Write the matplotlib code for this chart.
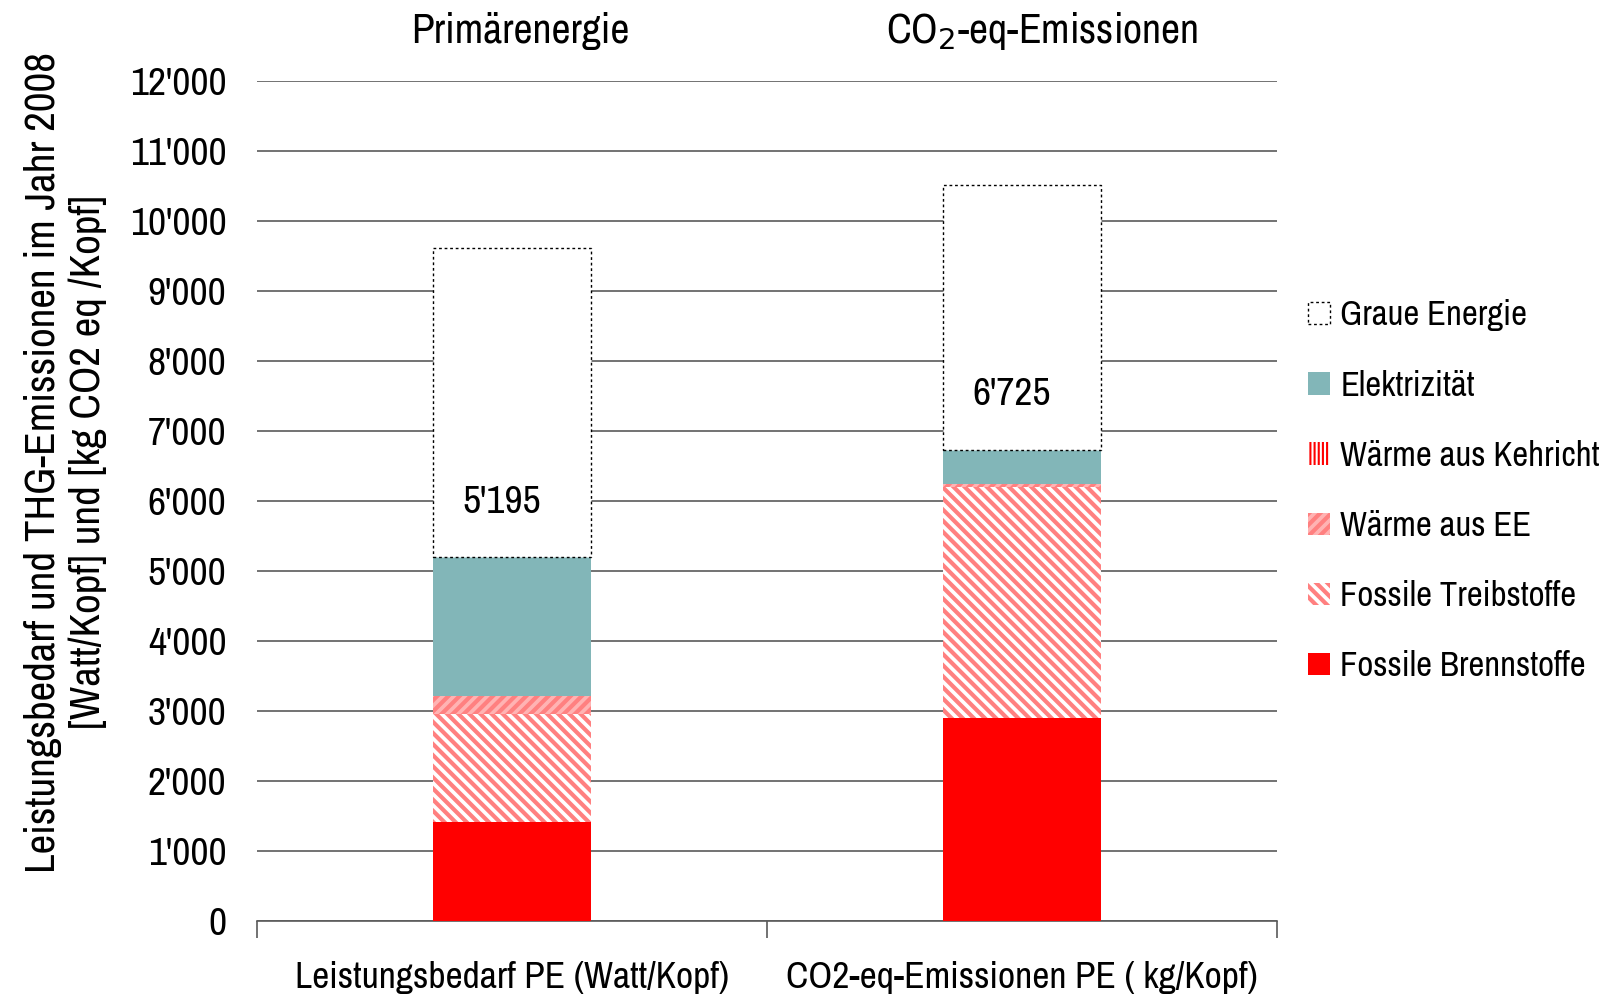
import numpy as np
import matplotlib.pyplot as plt
from matplotlib.patches import Patch

plt.rcParams['font.family'] = ['Liberation Sans Narrow', 'Arial Narrow', 'Archivo Narrow',
                               'PT Sans Narrow', 'Roboto Condensed', 'DejaVu Sans']
plt.rcParams['hatch.linewidth'] = 3

categories = ['Leistungsbedarf PE (Watt/Kopf)', 'CO2-eq-Emissionen PE ( kg/Kopf)']
titles = ['Primärenergie', 'CO$_2$-eq-Emissionen']
brennstoffe = [1420, 2900]
treibstoffe = [1535, 3300]
waerme_ee = [265, 50]
kehricht = [0, 0]
elektrizitaet = [1975, 475]
graue = [4420, 3795]
totals_label = ["5'195", "6'725"]

x = np.arange(len(categories))
width = 0.31

fig = plt.figure(figsize=(16.06, 10.0), dpi=100)
ax = fig.add_axes([0.160, 0.079, 0.635, 0.840])

bottom = np.zeros(2)
ax.bar(x, brennstoffe, width, bottom=bottom, color='#ff0000', zorder=3)
bottom += brennstoffe
ax.bar(x, treibstoffe, width, bottom=bottom, color='white', edgecolor='#ff8080',
       hatch='\\\\\\', linewidth=0, zorder=3)
bottom += treibstoffe
ax.bar(x, waerme_ee, width, bottom=bottom, color='#ffb3b3', edgecolor='#ff8080',
       hatch='///', linewidth=0, zorder=3)
bottom += waerme_ee
ax.bar(x, kehricht, width, bottom=bottom, color='white', edgecolor='#ff0000',
       hatch='||', linewidth=0, zorder=3)
bottom += kehricht
ax.bar(x, elektrizitaet, width, bottom=bottom, color='#82b6b8', zorder=3)
bottom += elektrizitaet
ax.bar(x, graue, width, bottom=bottom, color='white', edgecolor='black',
       linestyle=(0, (2, 2)), linewidth=1, zorder=3)

# value labels inside the grey energy part, titles above the bars
for i in range(2):
    ax.text(x[i] - 0.02, bottom[i] + 790, totals_label[i],
            ha='center', va='center', fontsize=28.5)
ax.text(x[0] + 0.016, 1.06, titles[0], transform=ax.get_xaxis_transform(),
        ha='center', va='center', fontsize=30)
ax.text(x[1] + 0.04, 1.06, titles[1], transform=ax.get_xaxis_transform(),
        ha='center', va='center', fontsize=30)

ax.set_xlim(-0.5, 1.5)
ax.set_ylim(0, 12000)
ax.set_yticks(np.arange(0, 12001, 1000))
ax.set_yticklabels([f"{v:,}".replace(',', "'") for v in range(0, 12001, 1000)],
                   fontsize=28.5)
ax.yaxis.grid(True, color='#5a5a5a', linewidth=1.2, zorder=0)
ax.tick_params(axis='y', length=0, pad=22)

ax.set_xticks([-0.5, 0.5, 1.5])
ax.set_xticklabels([])
ax.set_xticks(x, minor=True)
ax.set_xticklabels(categories, minor=True, fontsize=27)
ax.tick_params(axis='x', which='major', length=12, color='#5a5a5a', width=1.2)
ax.tick_params(axis='x', which='minor', length=0, pad=29)

for s in ['left', 'right', 'top']:
    ax.spines[s].set_visible(False)
ax.spines['bottom'].set_color('#5a5a5a')
ax.spines['bottom'].set_linewidth(1.2)

ax.set_ylabel('Leistungsbedarf und THG-Emissionen im Jahr 2008\n[Watt/Kopf] und [kg CO2 eq /Kopf]',
              fontsize=31, linespacing=1.2)
ax.yaxis.set_label_coords(-0.1475, 0.546)

handles = [
    Patch(facecolor='white', edgecolor='black', linestyle=(0, (2, 2)), linewidth=1),
    Patch(facecolor='#82b6b8'),
    Patch(facecolor='white', edgecolor='#ff0000', hatch='||||', linewidth=0),
    Patch(facecolor='#ffb3b3', edgecolor='#ff8080', hatch='///', linewidth=0),
    Patch(facecolor='white', edgecolor='#ff8080', hatch='\\\\\\', linewidth=0),
    Patch(facecolor='#ff0000'),
]
labels = ['Graue Energie', 'Elektrizität', 'Wärme aus Kehricht', 'Wärme aus EE',
          'Fossile Treibstoffe', 'Fossile Brennstoffe']
leg = ax.legend(handles, labels, loc='center left', bbox_to_anchor=(1.031, 0.512), frameon=False,
                fontsize=25, handlelength=0.62, handleheight=0.62, handletextpad=0.3,
                labelspacing=1.1, borderaxespad=0, borderpad=0)
# thinner vertical stripes for the Kehricht legend key
keh = leg.get_patches()[2]
if hasattr(keh, 'set_hatch_linewidth'):
    keh.set_hatch_linewidth(1.5)

fig.savefig('out.png', dpi=100)
